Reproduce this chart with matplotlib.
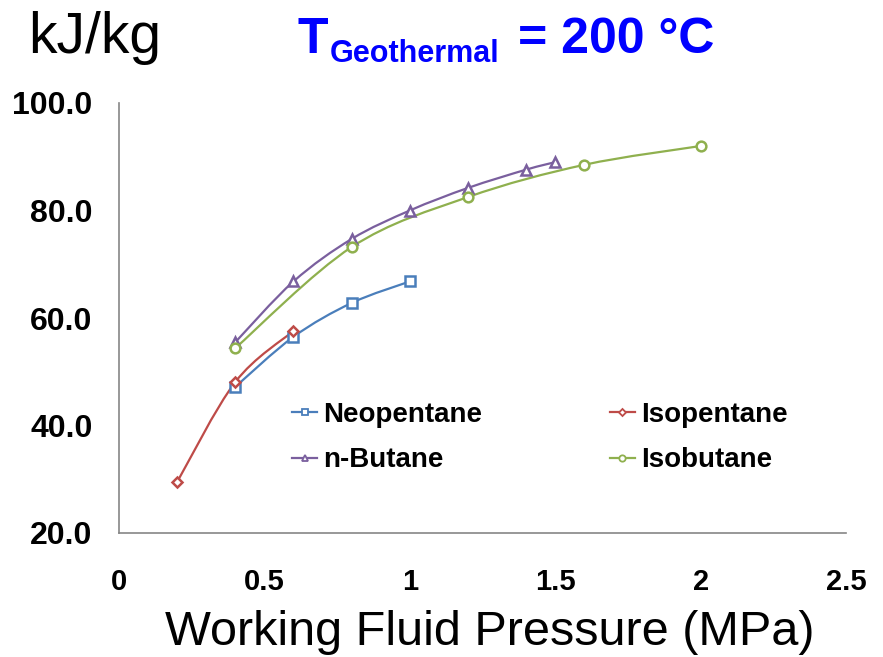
import numpy as np
import matplotlib
matplotlib.use("Agg")
import matplotlib.pyplot as plt
from matplotlib.path import Path
from matplotlib.patches import PathPatch
from matplotlib.lines import Line2D

# data (MPa, kJ/kg)
neo_x = [0.4, 0.6, 0.8, 1.0]
neo_y = [47.2, 56.5, 62.8, 66.8]

isop_x = [0.2, 0.4, 0.6]
isop_y = [29.5, 48.1, 57.6]

nbut_x = [0.4, 0.6, 0.8, 1.0, 1.2, 1.4, 1.5]
nbut_y = [55.5, 66.8, 74.7, 80.0, 84.2, 87.6, 89.0]

isob_x = [0.4, 0.8, 1.2, 1.6, 2.0]
isob_y = [54.4, 73.2, 82.5, 88.5, 92.0]

names = ['Neopentane', 'n-Butane', 'Isopentane', 'Isobutane']
xticks = [0, 0.5, 1, 1.5, 2, 2.5]
xtick_labels = ['0', '0.5', '1', '1.5', '2', '2.5']
yticks = [20, 40, 60, 80, 100]

plt.rcParams['font.family'] = ['Liberation Sans', 'DejaVu Sans']


def smooth_path(x, y):
    # excel-style smoothed line as bezier segments
    pts = np.column_stack([x, y])
    n = len(pts)
    verts = [pts[0]]
    codes = [Path.MOVETO]
    for i in range(n - 1):
        p0 = pts[max(i - 1, 0)]
        p1 = pts[i]
        p2 = pts[i + 1]
        p3 = pts[min(i + 2, n - 1)]
        verts += [p1 + (p2 - p0) / 6, p2 - (p3 - p1) / 6, p2]
        codes += [Path.CURVE4] * 3
    return Path(verts, codes)


fig = plt.figure(figsize=(8.83, 6.57), dpi=100)
ax = fig.add_axes([119 / 883, 1 - 533 / 657, (846 - 119) / 883, (533 - 103) / 657])

series = [
    (neo_x, neo_y, '#4a7ebb', 's'),
    (nbut_x, nbut_y, '#7a5f9e', '^'),
    (isop_x, isop_y, '#be4b48', 'D'),
    (isob_x, isob_y, '#8fb04e', 'o'),
]

handles = []
for (x, y, c, m), name in zip(series, names):
    ax.add_patch(PathPatch(smooth_path(x, y), facecolor='none', edgecolor=c, lw=1.6, zorder=2))
    ms = 5.5 if m == 'D' else 7
    ax.plot(x, y, ls='none', marker=m, ms=ms, mfc='white', mec=c, mew=1.8, zorder=3)
    handles.append(Line2D([], [], color=c, lw=1.6, marker=m, ms=ms * 0.65,
                          mfc='white', mec=c, mew=1.3))

ax.set_xlim(0, 2.5)
ax.set_ylim(20, 100)
ax.set_xticks(xticks)
ax.set_xticklabels(xtick_labels, fontsize=21, fontweight='bold')
ax.set_yticks(yticks)
ax.set_yticklabels([f'{v:.1f}' for v in yticks], fontsize=23, fontweight='bold')
ax.tick_params(length=0)
ax.tick_params(axis='x', pad=25)
ax.tick_params(axis='y', pad=19)

for s in ['top', 'right']:
    ax.spines[s].set_visible(False)
for s in ['left', 'bottom']:
    ax.spines[s].set_color('#868686')
    ax.spines[s].set_linewidth(1.2)

ax.set_xlabel('Working Fluid Pressure (MPa)', fontsize=35, va='baseline')
ax.xaxis.set_label_coords(490 / 883, 1 - 645 / 657, transform=fig.transFigure)

leg = ax.legend(handles, names, ncol=2, frameon=False, loc='upper left',
                bbox_to_anchor=(292 / 883, 1 - 402 / 657), bbox_transform=fig.transFigure,
                borderaxespad=0, borderpad=0, handlelength=0.9, handletextpad=0.22,
                columnspacing=4.6, labelspacing=0.7,
                prop={'size': 20, 'weight': 'bold'})

# headings
fig.text(28 / 883, 1 - 53 / 657, 'kJ/kg', fontsize=41, va='baseline')
fig.text(297 / 883, 1 - 53 / 657, 'T', fontsize=36, fontweight='bold', color='#0000ff', va='baseline')
fig.text(330 / 883, 1 - 62 / 657, 'Geothermal', fontsize=22, fontweight='bold', color='#0000ff', va='baseline')
fig.text(518 / 883, 1 - 53 / 657, '= 200 °C', fontsize=36, fontweight='bold', color='#0000ff', va='baseline')

fig.savefig('out.png', dpi=100)
